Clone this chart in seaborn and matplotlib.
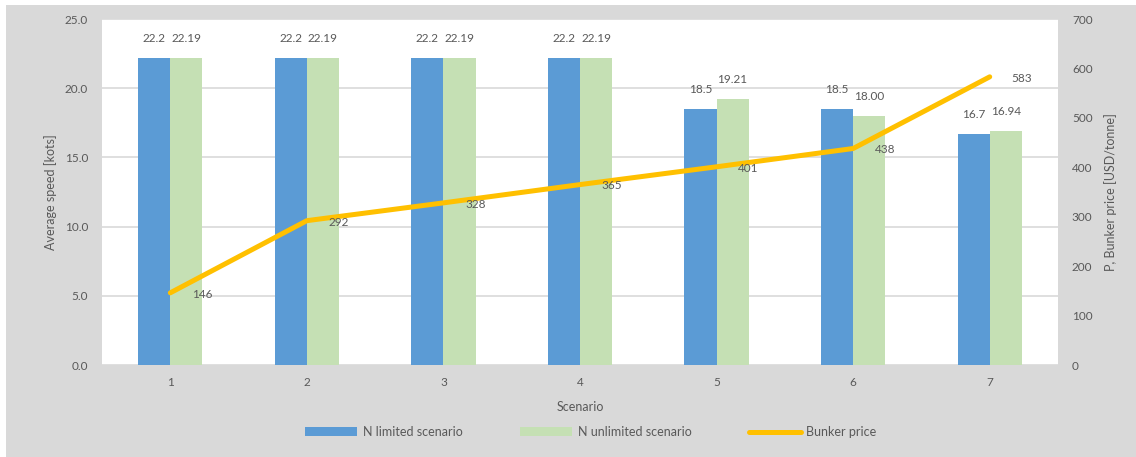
import matplotlib
matplotlib.use("Agg")
import matplotlib.pyplot as plt
from matplotlib.patches import Rectangle, Patch
from matplotlib.lines import Line2D
import seaborn as sns
import pandas as pd

# Data
scenarios = ["1", "2", "3", "4", "5", "6", "7"]
n_limited = [22.2, 22.2, 22.2, 22.2, 18.5, 18.5, 16.7]
n_unlimited = [22.19, 22.19, 22.19, 22.19, 19.21, 18.00, 16.94]
bunker_price = [146, 292, 328, 365, 401, 438, 583]

series_names = ["N limited scenario", "N unlimited scenario"]
line_name = "Bunker price"

blue = "#5b9bd5"
green = "#c5e0b4"
gold = "#ffc000"
text_c = "#595959"
grid_c = "#d9d9d9"
bg = "#d9d9d9"

sns.set_theme(style="white")
plt.rcParams["font.family"] = ["Lato", "DejaVu Sans"]
plt.rcParams["text.color"] = text_c
plt.rcParams["axes.labelcolor"] = text_c
plt.rcParams["xtick.color"] = text_c
plt.rcParams["ytick.color"] = text_c

W, H = 1136, 457
fig = plt.figure(figsize=(W / 100, H / 100), dpi=100)
fig.patch.set_facecolor("white")
fig.patches.append(Rectangle((6 / W, 0), 1 - 6 / W, 1 - 5 / H, transform=fig.transFigure,
                             facecolor=bg, edgecolor="none", zorder=-10))

left, right, top, bottom = 102, 1058, 19, 365
ax = fig.add_axes([left / W, 1 - bottom / H, (right - left) / W, (bottom - top) / H])
ax.set_facecolor("white")

df = pd.DataFrame({
    "Scenario": scenarios * 2,
    "Speed": n_limited + n_unlimited,
    "Series": [series_names[0]] * len(scenarios) + [series_names[1]] * len(scenarios),
})

sns.barplot(data=df, x="Scenario", y="Speed", hue="Series", order=scenarios,
            hue_order=series_names, palette=[blue, green], width=0.47, gap=0,
            saturation=1, ax=ax, legend=False, zorder=2, linewidth=0)

ax.set_ylim(0, 25)
ax.set_yticks([0, 5, 10, 15, 20, 25])
ax.set_yticklabels([f"{v:.1f}" for v in [0, 5, 10, 15, 20, 25]])
ax.yaxis.grid(True, color=grid_c, linewidth=1.2, zorder=0)
ax.set_axisbelow(True)
for s in ax.spines.values():
    s.set_visible(False)
ax.tick_params(axis="both", length=0, labelsize=8.5)
ax.tick_params(axis="y", pad=10)
ax.tick_params(axis="x", pad=9)
ax.set_xlabel("Scenario", fontsize=9, labelpad=9)
ax.set_ylabel("Average speed [kots]", fontsize=9, labelpad=5.5)

# Value labels above bars
fmts = ["{:.1f}", "{:.2f}"]
for cont, fmt in zip(ax.containers, fmts):
    for rect in cont:
        h = rect.get_height()
        ax.annotate(fmt.format(h), (rect.get_x() + rect.get_width() / 2, h),
                    xytext=(0, 14), textcoords="offset points",
                    ha="center", va="center", fontsize=8.5, color=text_c)

# Bunker price on secondary axis
ax2 = ax.twinx()
line_df = pd.DataFrame({"pos": list(range(len(scenarios))), "price": bunker_price})
sns.lineplot(data=line_df, x="pos", y="price", ax=ax2, color=gold, linewidth=3.6,
             solid_capstyle="round", zorder=5)
ax2.set_ylim(0, 700)
ax2.set_yticks(range(0, 701, 100))
for s in ax2.spines.values():
    s.set_visible(False)
ax2.tick_params(axis="y", length=0, labelsize=8.5, pad=10)
ax2.set_ylabel("P, Bunker price [USD/tonne]", fontsize=9, labelpad=8)
ax2.set_xlabel("")
ax.set_xlim(-0.5, len(scenarios) - 0.5)
for i, p in enumerate(bunker_price):
    ax2.annotate(f"{p}", (i, p), xytext=(23, -1), textcoords="offset points",
                 ha="center", va="center", fontsize=8.5, color=text_c, zorder=6)

handles = [Patch(facecolor=blue, edgecolor="none"),
           Patch(facecolor=green, edgecolor="none"),
           Line2D([0], [0], color=gold, linewidth=3.6)]
fig.legend(handles, series_names + [line_name], loc="center",
           bbox_to_anchor=(591 / W, 1 - 432 / H), ncol=3, frameon=False,
           fontsize=9, handlelength=4.15, handletextpad=0.45, columnspacing=4.6)

fig.savefig("out.png", dpi=100, facecolor=fig.get_facecolor())
